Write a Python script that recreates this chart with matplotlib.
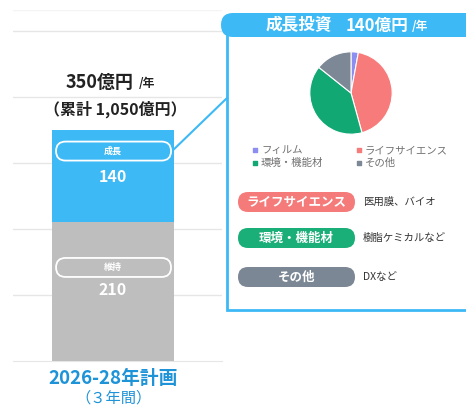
import matplotlib.pyplot as plt
from matplotlib.patches import FancyBboxPatch, Rectangle

plt.rcParams['font.family'] = ['Noto Sans CJK JP', 'DejaVu Sans']

# --- data ---
segments = ['維持', '成長']
segment_values = [210, 140]
total_label = '350億円'
cumulative_label = '（累計 1,050億円）'
period_label = '2026-28年計画'
period_sub = '（３年間）'

pie_labels = ['フィルム', 'ライフサイエンス', '環境・機能材', 'その他']
pie_values = [4, 60, 56, 20]
pie_colors = ['#8C8EF2', '#F77B7B', '#12A874', '#7D8896']

focus_areas = ['ライフサイエンス', '環境・機能材', 'その他']
focus_desc = ['医用膜、バイオ', '樹脂ケミカルなど', 'DXなど']
focus_colors = ['#F57B7B', '#1AAE78', '#7B8794']

BLUE = '#3DB9F5'
GREY_BAR = '#BEBEBE'
TEXT_BLUE = '#1E93D8'

W, H = 466, 408
fig = plt.figure(figsize=(W / 100, H / 100), dpi=100)


def px_axes(x0, y0, x1, y1):
    return fig.add_axes([x0 / W, 1 - y1 / H, (x1 - x0) / W, (y1 - y0) / H])


# --- stacked bar ---
ax = px_axes(13, 10, 222, 361)
ax.set_xlim(-0.82, 0.893)
ax.set_ylim(0, 532)
bottoms = [0, segment_values[0]]
bar_colors = [GREY_BAR, BLUE]
for v, b, c in zip(segment_values, bottoms, bar_colors):
    ax.bar(0, v, bottom=b, width=1.0, color=c, zorder=3)
ax.set_yticks([100, 200, 300, 400, 500])
ax.yaxis.grid(True, color='#E6E6E6', lw=1, zorder=0)
ax.axhline(532, color='#F4F4F4', lw=1, zorder=0)
ax.tick_params(length=0, labelleft=False, labelbottom=False)
for s in ['top', 'right', 'left']:
    ax.spines[s].set_visible(False)
ax.spines['bottom'].set_color('#E6E6E6')
ax.set_xticks([])

# overlay in pixel coordinates
ov = fig.add_axes([0, 0, 1, 1])
ov.set_xlim(0, W)
ov.set_ylim(H, 0)
ov.axis('off')


def to_px(x, y):
    d = ax.transData.transform((x, y))
    return d[0], H - d[1]


# segment labels (pill / value offsets from segment top, px)
cx, _ = to_px(0, 0)
tops = [b + v for b, v in zip(bottoms, segment_values)]
label_offsets = [(45, 68), (21, 47)]
for seg, v, top, (po, vo) in zip(segments, segment_values, tops, label_offsets):
    _, ty = to_px(0, top)
    py = ty + po
    ov.add_patch(FancyBboxPatch((cx - 57, py - 9.5), 115, 19,
                                boxstyle='round,pad=0,rounding_size=9.5',
                                fc='none', ec='white', lw=1.3, zorder=5))
    ov.text(cx, py, seg, color='white', fontsize=6.5, fontweight='bold',
            ha='center', va='center', zorder=6)
    ov.text(cx, ty + vo, str(v), color='white', fontsize=11.5, fontweight='bold',
            ha='center', va='center', zorder=6)

# total above bar
_, topy = to_px(0, sum(segment_values))
ov.text(cx + 20, topy - 48, total_label, fontsize=13, fontweight='bold',
        ha='right', va='center', color='#222222')
ov.text(cx + 26, topy - 47, '/年', fontsize=8.5, fontweight='bold',
        ha='left', va='center', color='#222222')
ov.text(cx + 2, topy - 21, cumulative_label, fontsize=11.5, fontweight='bold',
        ha='center', va='center', color='#222222')

# period labels
_, basey = to_px(0, 0)
ov.text(cx, basey + 18, period_label, fontsize=13.5, fontweight='bold',
        ha='center', va='center', color=TEXT_BLUE)
ov.text(cx, basey + 37, period_sub, fontsize=11, ha='center', va='center',
        color=TEXT_BLUE)

# --- detail panel ---
ov.add_patch(Rectangle((227, 25), 260, 285, fill=False, ec=BLUE, lw=2, zorder=2))
ov.add_patch(FancyBboxPatch((221, 13), 270, 24,
                            boxstyle='round,pad=0,rounding_size=12',
                            fc=BLUE, ec='none', zorder=3))
ov.text(266, 25.5, '成長投資', color='white', fontsize=12, fontweight='bold',
        ha='left', va='center', zorder=4)
ov.text(346, 25.5, '140億円', color='white', fontsize=12, fontweight='bold',
        ha='left', va='center', zorder=4)
ov.text(412, 26, '/年', color='white', fontsize=8.5, fontweight='bold',
        ha='left', va='center', zorder=4)

# connector
ov.plot([cx + 59, 227], [to_px(0, tops[1])[1] + 21, 98], color=BLUE, lw=1.5,
        zorder=2, solid_capstyle='round')

# pie
pax = px_axes(309, 51, 393, 135)
pax.pie(pie_values, colors=pie_colors, startangle=90, counterclock=False,
        radius=1, wedgeprops=dict(edgecolor='white', linewidth=0.8))
pax.set_xlim(-1.02, 1.02)
pax.set_ylim(-1.02, 1.02)

# pie legend
leg_pos = [(255, 150), (359, 150), (255, 163), (359, 163)]
for (lx, ly), lab, c in zip(leg_pos, pie_labels, pie_colors):
    ov.scatter([lx], [ly], marker='s', s=12, color=c, zorder=4)
    ov.text(lx + 6, ly, lab, fontsize=7.5, color='#707070',
            ha='left', va='center', zorder=4)

# focus pills
pill_y = [202, 238, 277]
for y, name, desc, c in zip(pill_y, focus_areas, focus_desc, focus_colors):
    ov.add_patch(FancyBboxPatch((238, y - 10), 117, 20,
                                boxstyle='round,pad=0,rounding_size=10',
                                fc=c, ec='none', zorder=3))
    ov.text(296.5, y, name, color='white', fontsize=9, fontweight='bold',
            ha='center', va='center', zorder=4)
    ov.text(363, y, desc, color='#333333', fontsize=7.5,
            ha='left', va='center', zorder=4)

fig.savefig('out.png', dpi=100)
